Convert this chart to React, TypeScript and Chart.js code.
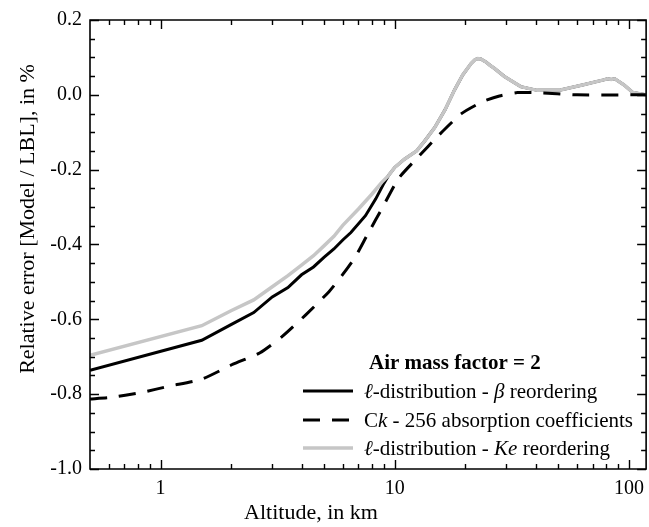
import React, { useEffect, useRef } from "react";
import { Chart, registerables } from "chart.js";

Chart.register(...registerables);

// ---- data ----
const ALT_BETA = [0.5, 1.5, 2.0, 2.5, 3.0, 3.5, 4.0, 4.5, 5.0, 5.5, 6.0, 6.5, 7.5, 8.3, 9.0, 9.4, 10.0, 11.0, 12.4, 13.4, 14.8, 16.4, 18.0, 19.5, 21.2, 22.0, 22.6, 23.3, 24.5, 25.5, 26.6, 29.4, 34.5, 40.6, 51, 64, 78, 81, 84, 87, 95, 104, 118];
const VAL_BETA = [-0.736, -0.656, -0.614, -0.582, -0.540, -0.515, -0.481, -0.460, -0.434, -0.412, -0.388, -0.368, -0.323, -0.278, -0.236, -0.216, -0.194, -0.172, -0.150, -0.124, -0.088, -0.040, 0.013, 0.053, 0.084, 0.094, 0.097, 0.096, 0.088, 0.079, 0.071, 0.049, 0.022, 0.012, 0.013, 0.027, 0.040, 0.043, 0.041, 0.043, 0.027, 0.006, 0.0];

const ALT_CK = [0.5, 0.61, 0.82, 1.1, 1.5, 2.04, 2.65, 3.32, 4.17, 5.24, 6.0, 6.79, 7.61, 8.96, 10.4, 12.6, 15.3, 19.2, 23.8, 28, 33.4, 43, 60, 118];
const VAL_CK = [-0.813, -0.809, -0.796, -0.778, -0.760, -0.720, -0.690, -0.645, -0.588, -0.526, -0.480, -0.433, -0.376, -0.296, -0.223, -0.166, -0.110, -0.051, -0.018, -0.003, 0.006, 0.005, 0.0, 0.0];

const ALT_KE = [0.5, 1.5, 2.0, 2.5, 3.0, 3.5, 4.0, 4.5, 5.0, 5.5, 6.0, 7.0, 8.0, 8.8, 9.4, 10.0, 11.0, 12.4, 13.4, 14.8, 16.4, 18.0, 19.5, 21.2, 22.0, 22.6, 23.3, 24.5, 25.5, 26.6, 29.4, 34.5, 40.6, 51, 64, 78, 81, 84, 87, 95, 104, 118];
const VAL_KE = [-0.696, -0.617, -0.577, -0.548, -0.513, -0.483, -0.455, -0.430, -0.403, -0.378, -0.349, -0.305, -0.265, -0.234, -0.216, -0.194, -0.172, -0.150, -0.124, -0.088, -0.040, 0.013, 0.053, 0.084, 0.094, 0.097, 0.096, 0.088, 0.079, 0.071, 0.049, 0.022, 0.012, 0.013, 0.027, 0.040, 0.043, 0.041, 0.043, 0.027, 0.006, 0.0];

const X_TICK_LABELS = [1, 10, 100];
const X_MINOR = [0.6, 0.7, 0.8, 0.9, 2, 3, 4, 5, 6, 7, 8, 9, 20, 30, 40, 50, 60, 70, 80, 90];
const Y_MIN = -1.0;
const Y_MAX = 0.2;

const LEGEND_TITLE = "Air mass factor = 2";
const LEGEND_ITEMS = [
  [{ t: "ℓ", i: true }, { t: "-distribution - ", i: false }, { t: "β", i: true }, { t: " reordering", i: false }],
  [{ t: "C", i: false }, { t: "k", i: true }, { t: " - 256 absorption coefficients", i: false }],
  [{ t: "ℓ", i: true }, { t: "-distribution - ", i: false }, { t: "Ke", i: true }, { t: " reordering", i: false }],
];

const X_TITLE = "Altitude, in km";
const Y_TITLE = "Relative error [Model / LBL], in %";

const GRAY = "rgb(198,198,198)";
const FONT = "'Liberation Serif', 'Times New Roman', serif";

function pts(xs: number[], ys: number[]) {
  return xs.map((x, i) => ({ x, y: ys[i] }));
}

const framePlugin = {
  id: "frame",
  afterDatasetsDraw(chart: any) {
    const { ctx, chartArea: a, scales } = chart;
    const xs = scales.x;
    const ys = scales.y;
    ctx.save();
    ctx.strokeStyle = "#000";
    ctx.lineWidth = 1.6;
    ctx.beginPath();
    ctx.moveTo(a.left, a.top);
    ctx.lineTo(a.right, a.top);
    ctx.lineTo(a.right, a.bottom);
    ctx.lineTo(a.left, a.bottom);
    ctx.closePath();
    ctx.stroke();
    ctx.lineWidth = 1.4;
    ctx.beginPath();
    for (let k = 0; k <= 24; k++) {
      const v = Y_MIN + k * 0.05;
      const py = Math.round(ys.getPixelForValue(v)) + 0.5;
      const len = k % 4 === 0 ? 9 : 5;
      ctx.moveTo(a.left, py);
      ctx.lineTo(a.left + len, py);
      ctx.moveTo(a.right, py);
      ctx.lineTo(a.right - len, py);
    }
    const drawX = (v: number, len: number) => {
      const px = Math.round(xs.getPixelForValue(v)) + 0.5;
      ctx.moveTo(px, a.bottom);
      ctx.lineTo(px, a.bottom - len);
      ctx.moveTo(px, a.top);
      ctx.lineTo(px, a.top + len);
    };
    X_TICK_LABELS.forEach((v) => drawX(v, 9));
    X_MINOR.forEach((v) => drawX(v, 5));
    ctx.stroke();

    ctx.fillStyle = "#000";
    ctx.font = `22px ${FONT}`;
    ctx.textAlign = "center";
    ctx.textBaseline = "middle";
    ctx.fillText(X_TITLE, 311, 513);
    ctx.save();
    ctx.translate(28, 219);
    ctx.rotate(-Math.PI / 2);
    ctx.fillText(Y_TITLE, 0, 0);
    ctx.restore();

    ctx.textAlign = "left";
    ctx.font = `bold 21px ${FONT}`;
    ctx.fillText(LEGEND_TITLE, 369, 364);
    const rows = [391, 420, 448];
    const ds = chart.data.datasets;
    const order = [1, 0, 2];
    LEGEND_ITEMS.forEach((segs, r) => {
      const d = ds[order[r]];
      const y = rows[r];
      ctx.save();
      ctx.strokeStyle = d.borderColor;
      ctx.lineWidth = d.borderWidth;
      ctx.setLineDash(d.borderDash || []);
      ctx.beginPath();
      ctx.moveTo(303, y);
      ctx.lineTo(353, y);
      ctx.stroke();
      ctx.restore();
      let x = 364;
      segs.forEach((s) => {
        ctx.font = `${s.i ? "italic " : ""}21px ${FONT}`;
        ctx.fillText(s.t, x, y + 1);
        x += ctx.measureText(s.t).width;
      });
    });
    ctx.restore();
  },
};

export default function App() {
  const ref = useRef<HTMLCanvasElement | null>(null);
  useEffect(() => {
    if (!ref.current) return;
    const chart = new Chart(ref.current, {
      type: "scatter",
      data: {
        datasets: [
          {
            label: "Ck",
            data: pts(ALT_CK, VAL_CK),
            showLine: true,
            borderColor: "#000",
            borderWidth: 3,
            borderDash: [17, 12],
            pointRadius: 0,
            tension: 0.2,
            order: 0,
          },
          {
            label: "beta",
            data: pts(ALT_BETA, VAL_BETA),
            showLine: true,
            borderColor: "#000",
            borderWidth: 3,
            pointRadius: 0,
            tension: 0,
            order: 2,
          },
          {
            label: "Ke",
            data: pts(ALT_KE, VAL_KE),
            showLine: true,
            borderColor: GRAY,
            borderWidth: 3.5,
            pointRadius: 0,
            tension: 0,
            order: 1,
          },
        ],
      },
      options: {
        animation: false,
        responsive: false,
        events: [],
        layout: { padding: { top: 16, right: 2, left: 0, bottom: 0 } },
        plugins: { legend: { display: false }, tooltip: { enabled: false } },
        scales: {
          x: {
            type: "logarithmic",
            min: 0.5,
            max: 118.4,
            grid: { display: false, drawTicks: false },
            border: { display: false },
            afterBuildTicks: (s: any) => {
              s.ticks = X_TICK_LABELS.map((v) => ({ value: v }));
            },
            afterFit: (s: any) => {
              s.height = 58;
            },
            ticks: {
              color: "#000",
              font: { family: FONT, size: 20 },
              padding: 8,
              autoSkip: false,
              maxRotation: 0,
              callback: (v: any) => String(v),
            },
          },
          y: {
            type: "linear",
            min: Y_MIN,
            max: Y_MAX,
            grid: { display: false, drawTicks: false },
            border: { display: false },
            afterFit: (s: any) => {
              s.width = 90;
            },
            ticks: {
              color: "#000",
              stepSize: 0.2,
              font: { family: FONT, size: 20 },
              padding: 8,
              callback: (v: any) => (Math.abs(v) < 1e-9 ? "0.0" : Number(v).toFixed(1)),
            },
          },
        },
      },
      plugins: [framePlugin],
    });
    return () => chart.destroy();
  }, []);
  return (
    <div style={{ position: "fixed", left: 0, top: 0, width: 649, height: 527, overflow: "hidden", background: "#fff" }}>
      <canvas ref={ref} width={652} height={527} style={{ display: "block" }} />
    </div>
  );
}
